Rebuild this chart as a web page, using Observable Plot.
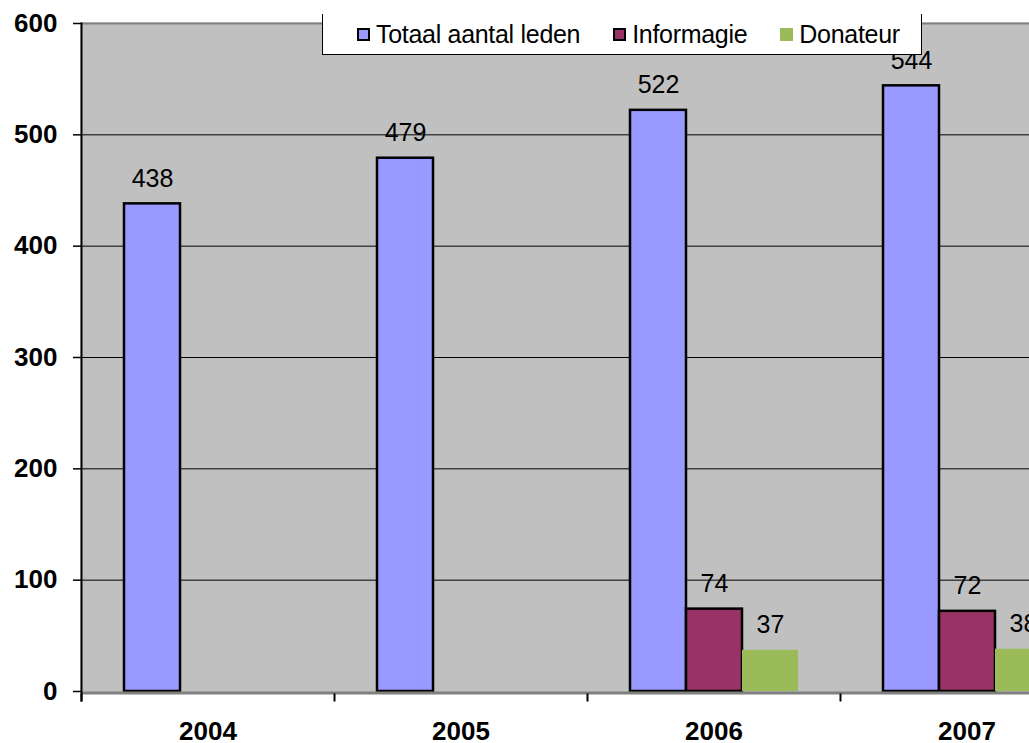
<!DOCTYPE html>
<html>
<head>
<meta charset="utf-8">
<script src="https://cdn.jsdelivr.net/npm/d3@7"></script>
<script src="https://cdn.jsdelivr.net/npm/@observablehq/plot@0.6"></script>
<style>
  html, body { margin: 0; padding: 0; background: white; overflow: hidden; }
  #wrap { position: relative; width: 1029px; height: 743px; overflow: hidden; font-family: "Liberation Sans", Arial, sans-serif; }
  #legend { position: absolute; left: 322px; top: 14px; width: 600px; height: 41px; background: white;
            border: 1.5px solid black; border-top: none; box-sizing: border-box;
            display: flex; align-items: center; padding-left: 34px; gap: 33px; font-size: 25px; color: black; }
  .item { display: flex; align-items: center; gap: 6px; white-space: nowrap; letter-spacing: -0.3px; }
  .sw { width: 13px; height: 13px; box-sizing: border-box; }
</style>
</head>
<body>
<div id="wrap"><div id="legend"></div></div>
<script>
const years = ["2004", "2005", "2006", "2007"];
const series = ["Totaal aantal leden", "Informagie", "Donateur"];
const totaal = [438, 479, 522, 544];
const informagie = [null, null, 74, 72];
const donateur = [null, null, 37, 38];
const colors = ["#9999FF", "#993366", "#9BBB59"];
const outlined = [true, true, false];
const yTicks = [0, 100, 200, 300, 400, 500, 600];

const valuesBySeries = [totaal, informagie, donateur];
const rows = [];
years.forEach((year, i) => {
  series.forEach((s, j) => {
    const v = valuesBySeries[j][i];
    if (v != null) rows.push({year, series: s, value: v, outlined: outlined[j]});
  });
});

const chart = Plot.plot({
  width: 1093,
  height: 743,
  marginLeft: 80,
  marginRight: 0,
  marginTop: 23,
  marginBottom: 52,
  style: {maxWidth: "none", overflow: "hidden", background: "white", fontFamily: "'Liberation Sans', Arial, sans-serif", color: "black"},
  fx: {domain: years, padding: 0, label: null},
  x: {domain: series, paddingInner: 0, paddingOuter: 0.75, axis: null},
  y: {domain: [0, 600], label: null},
  color: {domain: series, range: colors},
  marks: [
    Plot.frame({fill: "#C0C0C0", stroke: "#C0C0C0", strokeWidth: 2}),
    Plot.ruleY(yTicks.filter(v => v > 0 && v < 600), {stroke: "black", strokeWidth: 1}),
    Plot.ruleY([600], {stroke: "#808080", strokeWidth: 2}),
    Plot.barY(rows.filter(d => d.outlined), {fx: "year", x: "series", y: "value", fill: "series", stroke: "black", strokeWidth: 2.5}),
    Plot.barY(rows.filter(d => !d.outlined), {fx: "year", x: "series", y: "value", fill: "series"}),
    Plot.ruleY([0], {stroke: "#808080", strokeWidth: 3, dy: 1.5}),
    Plot.frame({anchor: "left", facetAnchor: "left", stroke: "black", strokeWidth: 2, insetBottom: -9}),
    Plot.frame({anchor: "left", stroke: "black", strokeWidth: 2, insetTop: 671, insetBottom: -9}),
    Plot.text(rows, {fx: "year", x: "series", y: "value", text: d => String(d.value), dy: -25, fontSize: 25, fill: "black"}),
    Plot.axisY({ticks: yTicks, tickSize: 8, tickPadding: 16, fontSize: 26, fontWeight: "bold", strokeWidth: 1.5, label: null}),
    Plot.axisFx({anchor: "bottom", tickSize: 0, tickPadding: 30, fontSize: 26, fontWeight: "bold", label: null})
  ]
});

const wrap = document.getElementById("wrap");
wrap.insertBefore(chart, wrap.firstChild);

const legend = document.getElementById("legend");
series.forEach((s, j) => {
  const item = document.createElement("div");
  item.className = "item";
  const sw = document.createElement("div");
  sw.className = "sw";
  sw.style.background = colors[j];
  if (outlined[j]) sw.style.border = "2px solid black";
  const label = document.createElement("span");
  label.textContent = s;
  item.appendChild(sw);
  item.appendChild(label);
  legend.appendChild(item);
});
</script>
</body>
</html>
